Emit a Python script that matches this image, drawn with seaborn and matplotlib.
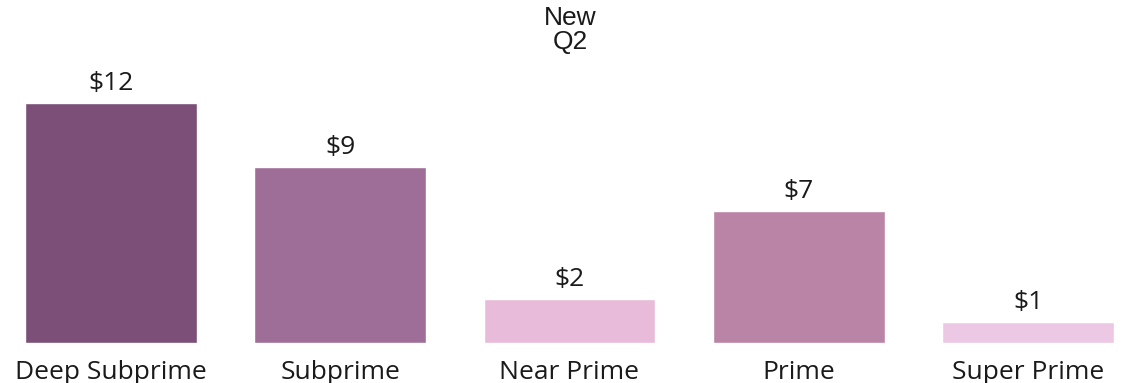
import matplotlib
matplotlib.use("Agg")
import matplotlib.pyplot as plt
import seaborn as sns
import pandas as pd

# Balance by credit tier, new loans, Q2 ($)
tiers = ["Deep Subprime", "Subprime", "Near Prime", "Prime", "Super Prime"]
balances = [12.0, 8.8, 2.2, 6.6, 1.05]
tier_colors = ["#7B4F78", "#9E6E98", "#E8BBDA", "#BA84A6", "#EDC8E4"]
panel_title = "New\nQ2"

sns.set_theme(style="white")
plt.rcParams["font.family"] = ["Open Sans", "DejaVu Sans"]

df = pd.DataFrame({"tier": tiers, "balance": balances})

fig = plt.figure(figsize=(11.22, 3.83), dpi=100)
ax = fig.add_axes([0.0, 40 / 383, 1.0, 240 / 383])

sns.barplot(data=df, x="tier", y="balance", hue="tier", palette=tier_colors,
            width=0.75, legend=False, ax=ax, saturation=1)

for i, v in enumerate(balances):
    ax.text(i, v + 0.35, f"${v:.0f}", ha="center", va="bottom",
            fontsize=19, color="#1a1a1a")

ax.set_xlim(-0.484, 4.41)
ax.set_ylim(0, 12)
ax.set_xlabel("")
ax.set_ylabel("")
ax.set_yticks([])
ax.tick_params(axis="x", length=0, pad=12, labelsize=19, labelcolor="#1a1a1a")
for s in ax.spines.values():
    s.set_visible(False)

fig.text(570 / 1122, 1 - 30 / 383, panel_title, ha="center", va="center",
         fontsize=19, color="#1a1a1a", linespacing=1.0,
         family=["Liberation Sans Narrow", "Liberation Sans", "DejaVu Sans"])

fig.savefig("out.png", dpi=100)
